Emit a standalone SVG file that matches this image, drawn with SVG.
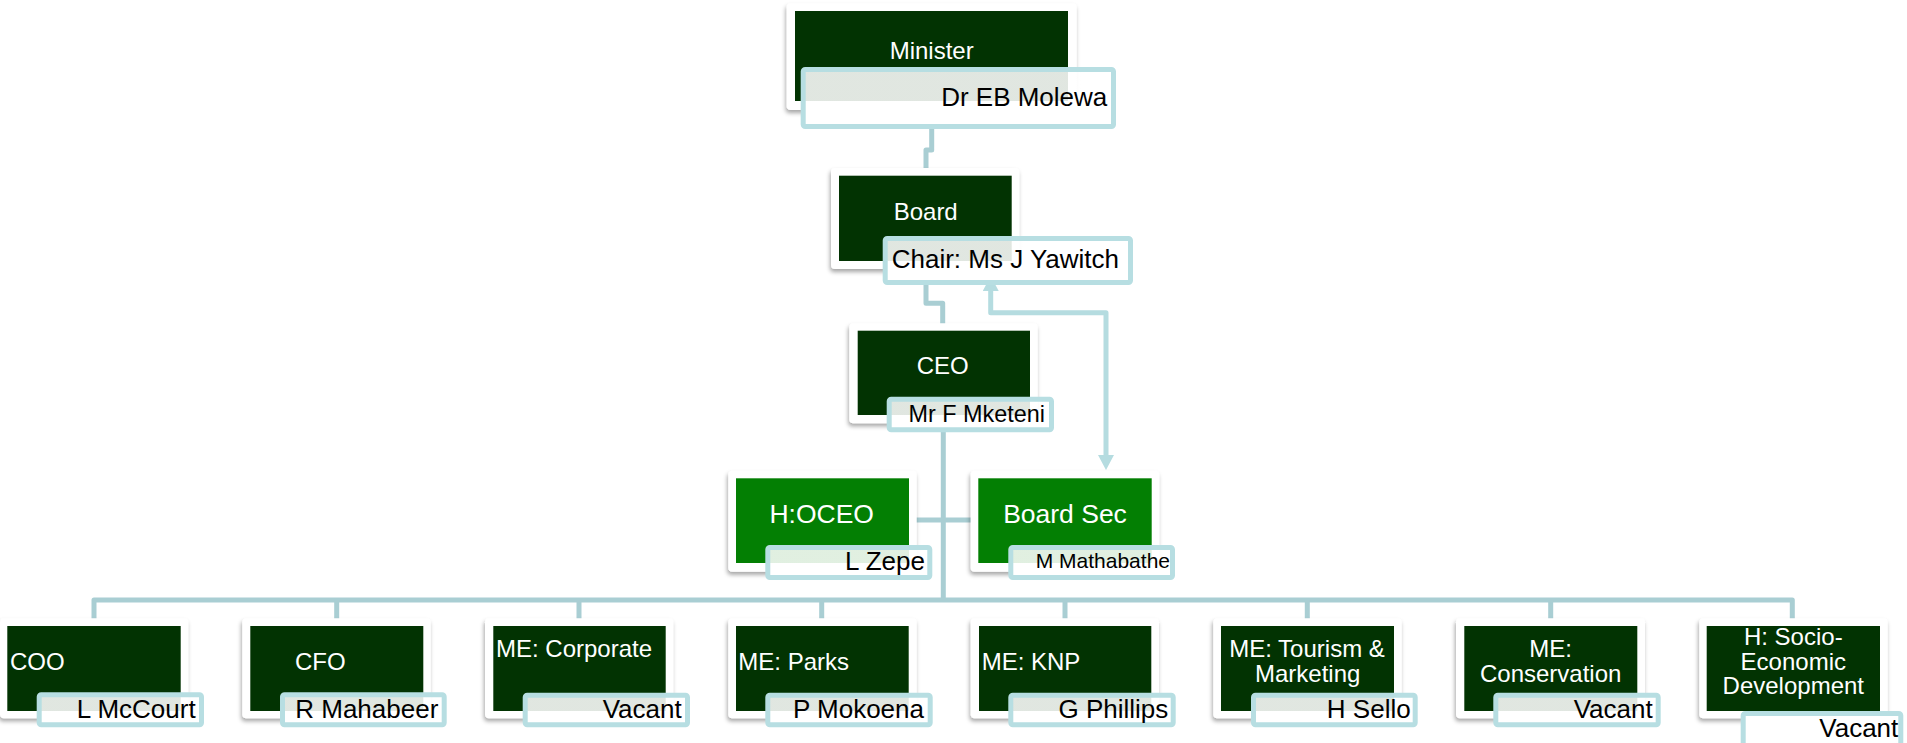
<svg xmlns="http://www.w3.org/2000/svg" width="1907" height="743" viewBox="0 0 1907 743">
<style>
text{font-family:"Liberation Sans",Arial,sans-serif}
.t{fill:#ffffff;font-size:24px}
.tc{text-anchor:middle}
.n{fill:#000000;font-size:26px;text-anchor:end}
.outer{fill:#ffffff;filter:url(#sh)}
.dk{fill:#023302}
.gr{fill:#037f03}
.nb{fill:url(#ng);stroke:#b7dee2;stroke-width:5}
.cn{fill:none;stroke:#a9ced3;stroke-width:5;stroke-linejoin:round}
.ar{fill:none;stroke:#b5dce0;stroke-width:5;stroke-linejoin:round}
</style>
<defs>
<filter id="sh" x="-10%" y="-10%" width="120%" height="130%">
<feDropShadow dx="-1" dy="3" stdDeviation="2" flood-color="#000000" flood-opacity="0.35"/>
</filter>
<linearGradient id="ng" x1="0" y1="0" x2="0" y2="1">
<stop offset="0" stop-color="#ffffff" stop-opacity="0.88"/>
<stop offset="0.6" stop-color="#ffffff" stop-opacity="0.88"/>
<stop offset="0.6" stop-color="#ffffff" stop-opacity="1"/>
<stop offset="1" stop-color="#ffffff" stop-opacity="1"/>
</linearGradient>
<marker id="ah" viewBox="0 0 15 16" refX="0" refY="8" markerWidth="15" markerHeight="16" markerUnits="userSpaceOnUse" orient="auto-start-reverse">
<path d="M0,0 L15,8 L0,16 z" fill="#b5dce0"/>
</marker>
</defs>

<g id="connectors">
<path class="cn" d="M931.7,110 V150 H926 V170"/>
<path class="cn" d="M926,269 V303.3 H942.7 V325"/>
<path class="cn" d="M943.3,425 V600"/>
<path class="cn" d="M914,520 H973"/>
<path class="cn" d="M94,620 V600 H1792.3 V620"/>
<path class="cn" d="M336.7,600 V620 M579,600 V620 M821.7,600 V620 M1065,600 V620 M1307.3,600 V620 M1550.7,600 V620"/>
<path class="ar" d="M990.7,291 V312.7 H1106 V455" marker-start="url(#ah)" marker-end="url(#ah)"/>
</g>

<g id="minister">
<rect class="outer" x="786.7" y="3.3" width="290" height="106.7" rx="4"/>
<rect class="dk" x="795" y="11" width="273" height="90"/>
<text class="t tc" x="931.7" y="59">Minister</text>
<rect class="nb" x="803.2" y="69.5" width="310.3" height="57" rx="2"/>
<text class="n" x="1107.3" y="106">Dr EB Molewa</text>
</g>

<g id="board">
<rect class="outer" x="831" y="168" width="188.3" height="101" rx="4"/>
<rect class="dk" x="839" y="175.7" width="172.7" height="85.3"/>
<text class="t tc" x="925.7" y="220">Board</text>
<rect class="nb" x="885.2" y="238.5" width="245.3" height="44" rx="2"/>
<text class="n" x="891.7" y="268" style="text-anchor:start">Chair: Ms J Yawitch</text>
</g>

<g id="ceo">
<rect class="outer" x="849.3" y="323.3" width="188.4" height="100" rx="4"/>
<rect class="dk" x="857.7" y="330.7" width="172.3" height="84.3"/>
<text class="t tc" x="942.7" y="374">CEO</text>
<rect class="nb" x="889.2" y="399.2" width="162.3" height="30.6" rx="2"/>
<text class="n" x="1045" y="421.7" style="font-size:23.4px">Mr F Mketeni</text>
</g>

<g id="hoceo">
<rect class="outer" x="728.3" y="470.7" width="188.4" height="101" rx="4"/>
<rect class="gr" x="736" y="478.3" width="173" height="84.7"/>
<text class="t tc" x="821.7" y="522.7" style="font-size:26.5px">H:OCEO</text>
<rect class="nb" x="767.8" y="547.5" width="162" height="30" rx="2"/>
<text class="n" x="925" y="570">L Zepe</text>
</g>

<g id="boardsec">
<rect class="outer" x="970.7" y="470.7" width="188.6" height="101" rx="4"/>
<rect class="gr" x="978.3" y="478.3" width="173.4" height="84.7"/>
<text class="t tc" x="1065" y="522.7" style="font-size:26.5px">Board Sec</text>
<rect class="nb" x="1010.8" y="547.5" width="161.7" height="30" rx="2"/>
<text class="n" x="1170" y="568.3" style="font-size:21px">M Mathabathe</text>
</g>

<g id="coo">
<rect class="outer" x="0" y="618.3" width="188.3" height="100" rx="4"/>
<rect class="dk" x="7.3" y="626" width="173.4" height="85"/>
<text class="t" x="10" y="670">COO</text>
<rect class="nb" x="39.2" y="694.8" width="162.3" height="30" rx="2"/>
<text class="n" x="195.7" y="718.3">L McCourt</text>
</g>

<g id="cfo">
<rect class="outer" x="242.3" y="618.3" width="188.4" height="100" rx="4"/>
<rect class="dk" x="250.3" y="626" width="173" height="85"/>
<text class="t" x="295" y="670">CFO</text>
<rect class="nb" x="282.5" y="694.8" width="161.7" height="30" rx="2"/>
<text class="n" x="438.3" y="718.3">R Mahabeer</text>
</g>

<g id="me-corporate">
<rect class="outer" x="485" y="618.3" width="188.3" height="100" rx="4"/>
<rect class="dk" x="493.3" y="626" width="172.4" height="85"/>
<text class="t" x="496" y="657.3">ME: Corporate</text>
<rect class="nb" x="525.2" y="695.2" width="162.3" height="29.6" rx="2"/>
<text class="n" x="681.7" y="717.7">Vacant</text>
</g>

<g id="me-parks">
<rect class="outer" x="728.3" y="618.3" width="188.4" height="100" rx="4"/>
<rect class="dk" x="736" y="626" width="172.7" height="85"/>
<text class="t" x="738.3" y="670">ME: Parks</text>
<rect class="nb" x="767.8" y="695.2" width="162.4" height="29.6" rx="2"/>
<text class="n" x="924" y="717.7">P Mokoena</text>
</g>

<g id="me-knp">
<rect class="outer" x="970.7" y="618.3" width="188.3" height="100" rx="4"/>
<rect class="dk" x="979" y="626" width="172.3" height="85"/>
<text class="t" x="981.7" y="670">ME: KNP</text>
<rect class="nb" x="1010.8" y="695.2" width="162.4" height="29.6" rx="2"/>
<text class="n" x="1168.3" y="717.7">G Phillips</text>
</g>

<g id="me-tourism">
<rect class="outer" x="1213.3" y="618.3" width="188.4" height="100" rx="4"/>
<rect class="dk" x="1221" y="626" width="173" height="85"/>
<text class="t tc" x="1307" y="657.3">ME: Tourism &amp;</text>
<text class="t tc" x="1307.7" y="681.7">Marketing</text>
<rect class="nb" x="1253.5" y="695.2" width="161.7" height="29.6" rx="2"/>
<text class="n" x="1410.7" y="717.7">H Sello</text>
</g>

<g id="me-conservation">
<rect class="outer" x="1456" y="618.3" width="189" height="100" rx="4"/>
<rect class="dk" x="1464.3" y="626" width="173" height="85"/>
<text class="t tc" x="1550.7" y="657.3">ME:</text>
<text class="t tc" x="1550.7" y="681.7">Conservation</text>
<rect class="nb" x="1495.8" y="695.2" width="162.4" height="29.6" rx="2"/>
<text class="n" x="1652.7" y="717.7">Vacant</text>
</g>

<g id="h-socio">
<rect class="outer" x="1699.3" y="618.3" width="188.4" height="100" rx="4"/>
<rect class="dk" x="1706.7" y="626" width="173.3" height="85"/>
<text class="t tc" x="1793.3" y="645">H: Socio-</text>
<text class="t tc" x="1793.3" y="670">Economic</text>
<text class="t tc" x="1793.3" y="694">Development</text>
<rect class="nb" x="1743.2" y="713.5" width="157.6" height="32" rx="2" style="fill:#ffffff"/>
<text class="n" x="1898.3" y="736.7">Vacant</text>
</g>
</svg>
